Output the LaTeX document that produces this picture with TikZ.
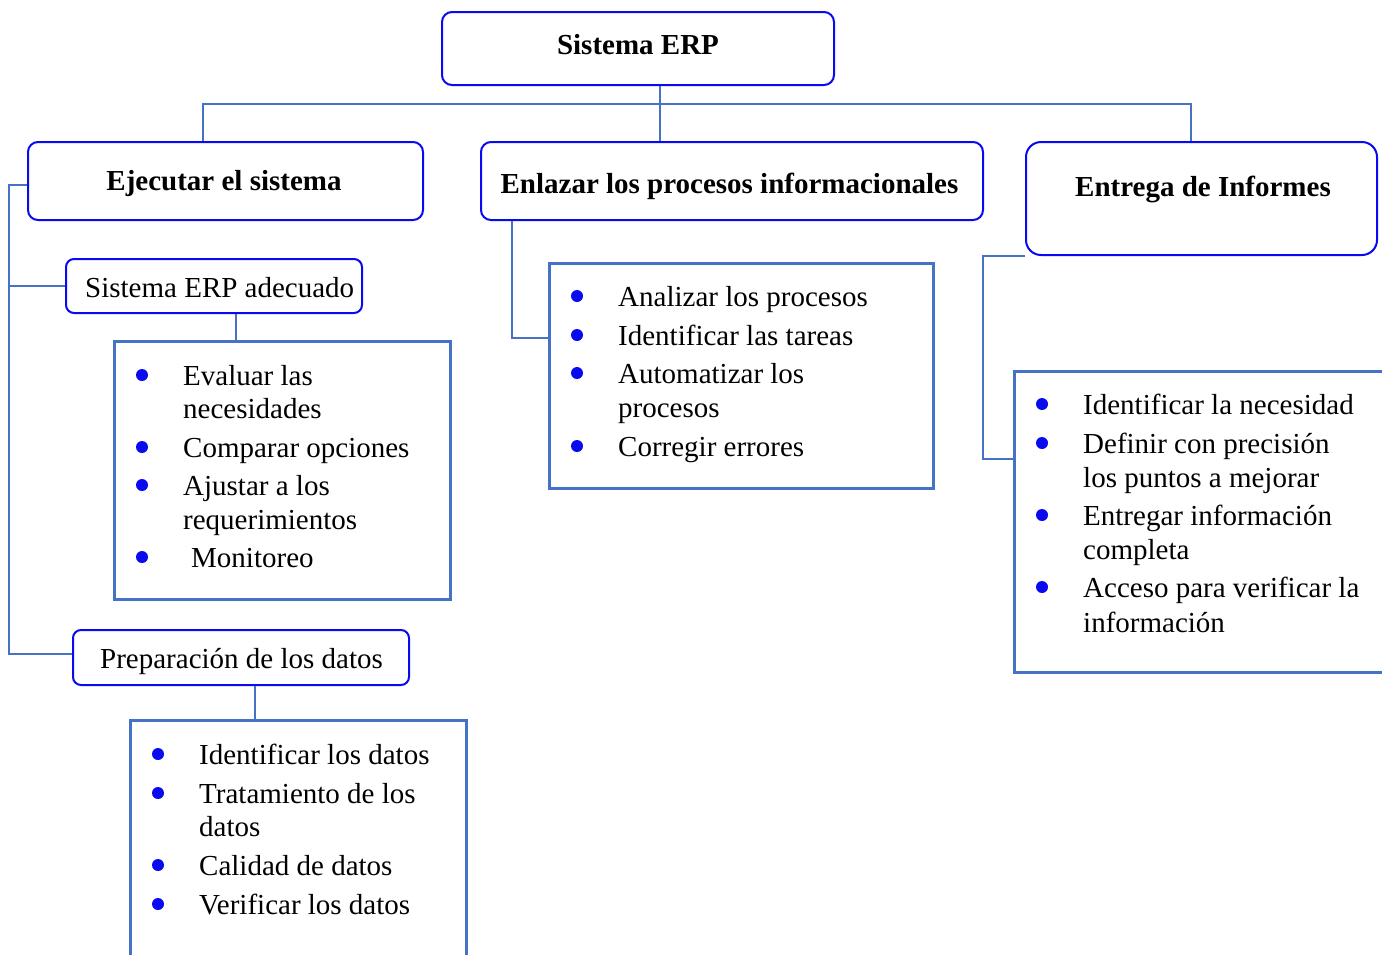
\documentclass[tikz,border=0pt]{standalone}
\usepackage{fontspec}
\setmainfont{Liberation Serif}
\definecolor{boxblue}{RGB}{10,10,240}
\definecolor{lineblue}{RGB}{68,114,196}
\begin{document}
\begin{tikzpicture}[x=1pt,y=-1pt,
  titlebox/.style={draw=boxblue,line width=2pt,rounded corners=10pt,inner sep=0pt},
  listbox/.style={draw=lineblue,line width=3pt,inner sep=0pt},
  conn/.style={draw=lineblue,line width=1.3pt},
  txt/.style={font=\fontsize{29}{33}\selectfont,inner sep=0pt,anchor=base west},
  ttl/.style={font=\fontsize{29}{33}\selectfont\bfseries,inner sep=0pt,anchor=base},
  dot/.style={circle,fill=boxblue,inner sep=0pt,minimum size=12pt}]
\clip (0,0) rectangle (1382,954);
\useasboundingbox (0,0) rectangle (1382,954);
\fill[white] (0,0) rectangle (1382,954);

% title boxes
\node[titlebox,minimum width=392pt,minimum height=73pt] (erp) at (638,48.5) {};
\node[titlebox,minimum width=395pt,minimum height=78pt] (ejec) at (225.5,181) {};
\node[titlebox,minimum width=502pt,minimum height=78pt] (enl) at (732,181) {};
\node[titlebox,rounded corners=15pt,minimum width=351pt,minimum height=113pt] (ent) at (1201.5,198.5) {};
\node[titlebox,rounded corners=8pt,minimum width=296pt,minimum height=54pt] (ade) at (214,286) {};
\node[titlebox,rounded corners=8pt,minimum width=336pt,minimum height=55pt] (prep) at (241,657.5) {};

\node[ttl] (terp) at (638,54) {Sistema ERP};
\node[ttl] (tejec) at (224,190) {Ejecutar el sistema};
\node[ttl] (tenl) at (729.5,193.5) {Enlazar los procesos informacionales};
\node[ttl] (tent) at (1203,196.5) {Entrega de Informes};
\node[txt] (tade) at (85,297.5) {Sistema ERP adecuado};
\node[txt] (tprep) at (100,668.5) {Preparación de los datos};

% list boxes
\node[listbox,minimum width=336pt,minimum height=258pt] (list1) at (282,470) {};
\node[listbox,minimum width=384pt,minimum height=225pt] (list2) at (741,375.5) {};
\node[listbox,minimum width=406pt,minimum height=301pt] (list3) at (1217,521.5) {};
\node[listbox,minimum width=336pt,minimum height=280pt] (list4) at (298,860) {};

% connectors
\coordinate (hub) at (660,104);
\coordinate (hl) at (203,104);
\coordinate (hr) at (1191,104);
\draw[conn] (hub |- erp.south) -- (hub |- enl.north);
\draw[conn] (hl |- ejec.north) -- (hl) -- (hr) -- (hr |- ent.north);
\coordinate (lx) at (9,185);
\coordinate (ly) at (9,654);
\draw[conn] (lx -| ejec.west) -- (lx) -- (ly) -- (ly -| prep.west);
\draw[conn] (lx |- ade.west) -- (ade.west);
\coordinate (c1) at (236,0);
\draw[conn] (c1 |- ade.south) -- (c1 |- list1.north);
\coordinate (c2) at (255,0);
\draw[conn] (c2 |- prep.south) -- (c2 |- list4.north);
\coordinate (c3) at (512,338);
\draw[conn] (c3 |- enl.south) -- (c3) -- (c3 -| list2.west);
\coordinate (c4) at (983,459);
\draw[conn] (ent.south west) -- (c4 |- ent.south west) -- (c4) -- (c4 -| list3.west);

% list 1
\node[dot] (d1a) at (142,375) {};
\node[dot] (d1b) at (142,447) {};
\node[dot] (d1c) at (142,485) {};
\node[dot] (d1d) at (142,557) {};
\node[txt] (t1a) at (183,385) {Evaluar las};
\node[txt] (t1b) at (183,418) {necesidades};
\node[txt] (t1c) at (183,457) {Comparar opciones};
\node[txt] (t1d) at (183,495) {Ajustar a los};
\node[txt] (t1e) at (183,529) {requerimientos};
\node[txt] (t1f) at (191,567) {Monitoreo};

% list 2
\node[dot] (d2a) at (577,296) {};
\node[dot] (d2b) at (577,335) {};
\node[dot] (d2c) at (577,373) {};
\node[dot] (d2d) at (577,446) {};
\node[txt] (t2a) at (618,306) {Analizar los procesos};
\node[txt] (t2b) at (618,345) {Identificar las tareas};
\node[txt] (t2c) at (618,383) {Automatizar los};
\node[txt] (t2d) at (618,417) {procesos};
\node[txt] (t2e) at (618,456) {Corregir errores};

% list 3
\node[dot] (d3a) at (1042,404) {};
\node[dot] (d3b) at (1042,443) {};
\node[dot] (d3c) at (1042,515) {};
\node[dot] (d3d) at (1042,587) {};
\node[txt] (t3a) at (1083,414) {Identificar la necesidad};
\node[txt] (t3b) at (1083,453) {Definir con precisión};
\node[txt] (t3c) at (1083,487) {los puntos a mejorar};
\node[txt] (t3d) at (1083,525) {Entregar información};
\node[txt] (t3e) at (1083,559) {completa};
\node[txt] (t3f) at (1083,597) {Acceso para verificar la};
\node[txt] (t3g) at (1083,632) {información};

% list 4
\node[dot] (d4a) at (158,754) {};
\node[dot] (d4b) at (158,793) {};
\node[dot] (d4c) at (158,865) {};
\node[dot] (d4d) at (158,904) {};
\node[txt] (t4a) at (199,764) {Identificar los datos};
\node[txt] (t4b) at (199,803) {Tratamiento de los};
\node[txt] (t4c) at (199,836) {datos};
\node[txt] (t4d) at (199,875) {Calidad de datos};
\node[txt] (t4e) at (199,914) {Verificar los datos};
\end{tikzpicture}
\end{document}
